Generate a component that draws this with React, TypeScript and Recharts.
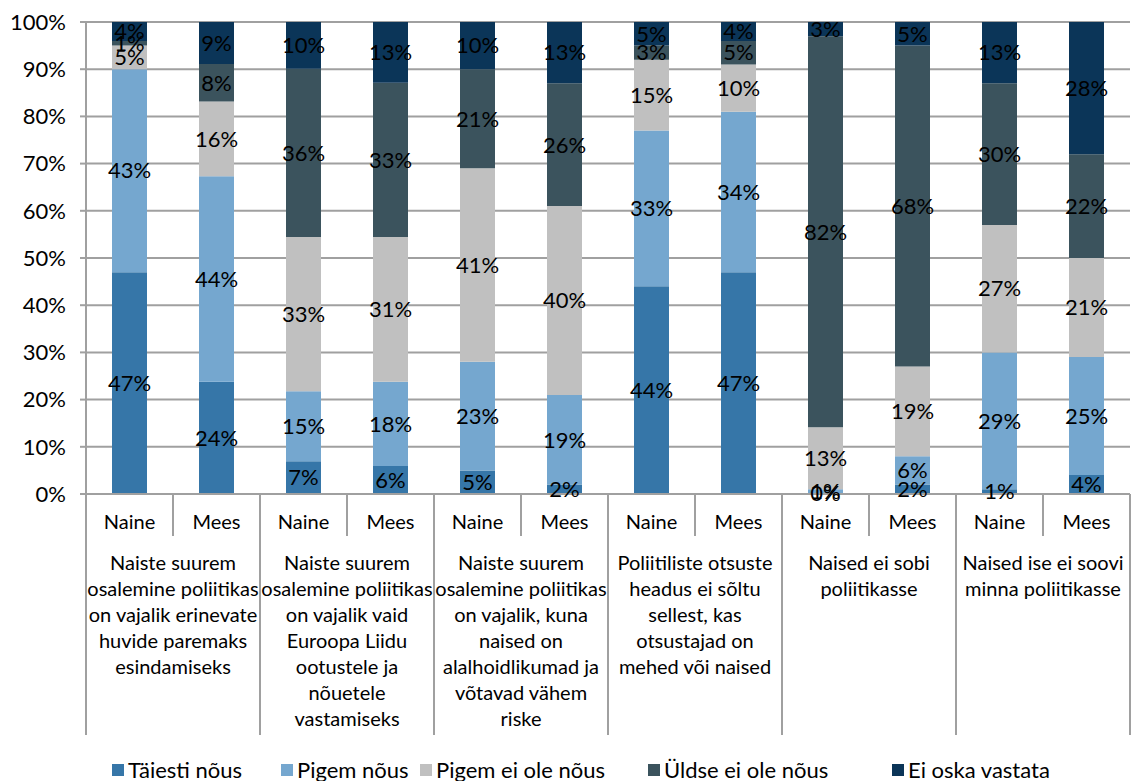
import React from 'react';
import { Bar, BarChart, CartesianGrid, LabelList, Legend, XAxis, YAxis } from 'recharts';

const sexes = ['Naine', 'Mees', 'Naine', 'Mees', 'Naine', 'Mees', 'Naine', 'Mees', 'Naine', 'Mees', 'Naine', 'Mees'];

const groupLabels = [
  ['Naiste suurem', 'osalemine poliitikas', 'on vajalik erinevate', 'huvide paremaks', 'esindamiseks'],
  ['Naiste suurem', 'osalemine poliitikas', 'on vajalik vaid', 'Euroopa Liidu', 'ootustele ja', 'nõuetele', 'vastamiseks'],
  ['Naiste suurem', 'osalemine poliitikas', 'on vajalik, kuna', 'naised on', 'alalhoidlikumad ja', 'võtavad vähem', 'riske'],
  ['Poliitiliste otsuste', 'headus ei sõltu', 'sellest, kas', 'otsustajad on', 'mehed või naised'],
  ['Naised ei sobi', 'poliitikasse'],
  ['Naised ise ei soovi', 'minna poliitikasse'],
];

const seriesNames = ['Täiesti nõus', 'Pigem nõus', 'Pigem ei ole nõus', 'Üldse ei ole nõus', 'Ei oska vastata'];

const taiestiNous = [47, 24, 7, 6, 5, 2, 44, 47, 0, 2, 1, 4];
const pigemNous = [43, 44, 15, 18, 23, 19, 33, 34, 1, 6, 29, 25];
const pigemEiOleNous = [5, 16, 33, 31, 41, 40, 15, 10, 13, 19, 27, 21];
const uldseEiOleNous = [1, 8, 36, 33, 21, 26, 3, 5, 82, 68, 30, 22];
const eiOskaVastata = [4, 9, 10, 13, 10, 13, 5, 4, 3, 5, 13, 28];

const yTicks = [0, 0.1, 0.2, 0.3, 0.4, 0.5, 0.6, 0.7, 0.8, 0.9, 1];

const seriesKeys = ['s0', 's1', 's2', 's3', 's4'];
const seriesValues = [taiestiNous, pigemNous, pigemEiOleNous, uldseEiOleNous, eiOskaVastata];
const colors = ['#3676a8', '#75a7cf', '#c0c0c0', '#3b535d', '#0b3558'];

const data = sexes.map((sex, i) => {
  const row: any = { sex };
  seriesKeys.forEach((k, s) => {
    row[k] = seriesValues[s][i];
  });
  return row;
});

const FONT = 'Lato, "Open Sans", sans-serif';
const GRID = '#a0a0a0';
const SLOT = 87;
const LEGEND_X = [112, 281, 420, 648, 892];

const CategoryTick = (props: any) => {
  const { x, y, payload, index } = props;
  const left = x - SLOT / 2;
  const groupStart = index % 2 === 0;
  const lines = groupStart ? groupLabels[index / 2] : null;
  return (
    <g>
      <line x1={left} x2={left} y1={y} y2={groupStart ? y + 241 : y + 42} stroke={GRID} strokeWidth={2} />
      {index === sexes.length - 1 && (
        <line x1={x + SLOT / 2} x2={x + SLOT / 2} y1={y} y2={y + 241} stroke={GRID} strokeWidth={2} />
      )}
      <text x={x} y={y + 35} textAnchor="middle" fontSize={20} fill="#000" fontFamily={FONT}>
        {payload.value}
      </text>
      {lines && (
        <text x={x + SLOT / 2} y={y + 76} textAnchor="middle" fontSize={20} fill="#000" fontFamily={FONT}>
          {lines.map((l, i) => (
            <tspan key={i} x={x + SLOT / 2} dy={i === 0 ? 0 : 26}>
              {l}
            </tspan>
          ))}
        </text>
      )}
    </g>
  );
};

const LegendContent = () => (
  <div style={{ position: 'relative', width: 1131, height: 22, fontFamily: FONT, fontSize: 22, lineHeight: '22px' }}>
    {seriesNames.map((name, i) => (
      <div
        key={name}
        style={{ position: 'absolute', left: LEGEND_X[i], top: 0, display: 'flex', alignItems: 'center', whiteSpace: 'nowrap' }}
      >
        <span style={{ display: 'inline-block', width: 12, height: 12, background: colors[i], marginRight: 4 }} />
        <span style={{ color: '#000' }}>{name}</span>
      </div>
    ))}
  </div>
);

export default function App() {
  return (
    <div style={{ position: 'absolute', left: 0, top: 0, background: '#fff' }}>
      <BarChart
        width={1131}
        height={781}
        data={data}
        stackOffset="expand"
        margin={{ top: 22, right: 1, bottom: 0, left: 0 }}
        style={{ fontFamily: FONT }}
      >
        <CartesianGrid vertical={false} stroke={GRID} strokeWidth={2} />
        <YAxis
          width={86}
          ticks={yTicks}
          domain={[0, 1]}
          tickFormatter={(v: number) => `${Math.round(v * 100)}%`}
          tick={{ fill: '#000', fontSize: 22, fontFamily: FONT }}
          tickSize={6}
          tickMargin={14}
          stroke={GRID}
          strokeWidth={2}
          interval={0}
        />
        <XAxis
          dataKey="sex"
          height={265}
          interval={0}
          tickLine={false}
          tickSize={0}
          tickMargin={0}
          stroke={GRID}
          strokeWidth={2}
          tick={<CategoryTick />}
        />
        <Legend verticalAlign="bottom" content={<LegendContent />} />
        {seriesKeys.map((k, s) => (
          <Bar
            key={k}
            dataKey={k}
            name={seriesNames[s]}
            stackId="a"
            fill={colors[s]}
            barSize={35}
            minPointSize={s === 0 ? 1 : 0}
            isAnimationActive={false}
          >
            <LabelList
              dataKey={k}
              position="center"
              formatter={(v: any) => `${v}%`}
              fill="#000"
              fontSize={22}
              fontFamily={FONT}
            />
          </Bar>
        ))}
      </BarChart>
    </div>
  );
}
